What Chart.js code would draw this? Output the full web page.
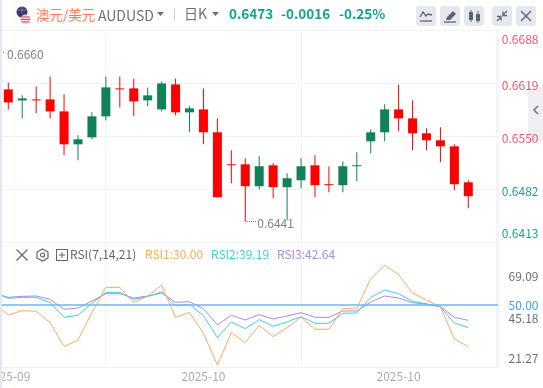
<!DOCTYPE html>
<html><head><meta charset="utf-8">
<script src="https://cdn.jsdelivr.net/npm/chart.js@4"></script>
<style>
html,body{margin:0;padding:0;background:#fff;width:543px;height:388px;overflow:hidden;font-family:"Noto Sans CJK SC","Noto Sans",sans-serif}
#c{position:absolute;left:0;top:0;z-index:2}
.t{position:absolute;white-space:nowrap;line-height:18px;z-index:3}
#strip{position:absolute;left:0;top:0;width:2px;height:388px;background:#e4e8f0;z-index:4}
#tab{position:absolute;left:528px;top:88px;width:15px;height:53px;background:#eeeef3;z-index:1}
.b{position:absolute;top:6px;width:20px;height:20px;background:#e6e8ef;border-radius:3px;z-index:3}
svg{display:block}
.i{position:absolute;z-index:3}
</style></head><body>
<div id="strip"></div><div id="tab"><svg width="15" height="53"><path d="M10 18 L6 22 L10 26" fill="none" stroke="#6e7380" stroke-width="1.5"/></svg></div>
<svg class="i" style="left:15px;top:5px" width="18" height="20"><circle cx="7" cy="7" r="5.5" fill="#2a3f80"/><path d="M2 5h10M7 2v6" stroke="#d9506a" stroke-width="1"/><circle cx="10.5" cy="14.5" r="5" fill="#f3d5d5"/><path d="M6 12h9M5.500 14.500h10M6.500 17h8" stroke="#d9506a" stroke-width="1.2"/></svg>
<div class="t" style="left:36px;top:5px;font-size:13.5px;color:#ff7a57">澳元/美元</div>
<div class="t" style="left:98px;top:6px;font-size:14px;color:#6b7080">AUDUSD</div>
<svg class="i" style="left:157px;top:12px" width="8" height="5"><path d="M0 0h7L3.500 4z" fill="#6b7080"/></svg>
<div class="i" style="left:174px;top:8px;width:1px;height:13px;background:#c9ccd4"></div>
<div class="t" style="left:184px;top:4px;font-size:14px;color:#6b7080">日K</div>
<svg class="i" style="left:212px;top:12px" width="8" height="5"><path d="M0 0h7L3.500 4z" fill="#6b7080"/></svg>
<div class="t" style="left:229px;top:4px;font-size:13.5px;font-weight:700;color:#13a388">0.6473</div>
<div class="t" style="left:281px;top:4px;font-size:13.5px;font-weight:700;color:#13a388">-0.0016</div>
<div class="t" style="left:339px;top:4px;font-size:13.5px;font-weight:700;color:#13a388">-0.25%</div>
<div class="b" style="left:416px"><svg width="20" height="20"><path d="M4 11 L7 6 L10 10 L12 8 L16 9" fill="none" stroke="#5f6470" stroke-width="1.300"/><path d="M4 15h12" stroke="#5f6470" stroke-width="1.300"/></svg></div>
<div class="b" style="left:440px"><svg width="20" height="20"><path d="M7 11 L13 5 L16 8 L10 14 L6 14z" fill="#5f6470"/><path d="M4 16h12" stroke="#5f6470" stroke-width="1.300"/></svg></div>
<div class="b" style="left:464px"><svg width="20" height="20"><rect x="5" y="6" width="4" height="8" fill="#5f6470"/><rect x="12" y="8" width="4" height="7" fill="#5f6470"/><path d="M7 4v12M14 5v12" stroke="#5f6470"/></svg></div>
<div class="b" style="left:492px"><svg width="20" height="20"><path d="M15 5 L11 9 M5 15 L9 11" stroke="#5f6470" stroke-width="1.300"/><path d="M11 5.500v4h4M9 14.500v-4h-4" fill="none" stroke="#5f6470" stroke-width="1.300"/></svg></div>
<div class="b" style="left:516px"><svg width="20" height="20"><path d="M5 5 L15 15 M15 5 L5 15" stroke="#5f6470" stroke-width="1.300"/></svg></div>
<svg class="i" style="left:15px;top:248px" width="14" height="14"><path d="M1.500 1.500 L12.500 12.500 M12.500 1.500 L1.500 12.500" stroke="#5f6470" stroke-width="1.200"/></svg>
<svg class="i" style="left:36px;top:248px" width="13" height="14"><path d="M6.500 1 L12 4 V10 L6.500 13 L1 10 V4z" fill="none" stroke="#5f6470" stroke-width="1.200"/><circle cx="6.500" cy="7" r="2" fill="none" stroke="#5f6470" stroke-width="1.200"/></svg>
<svg class="i" style="left:56px;top:249px" width="12" height="12"><rect x=".5" y=".5" width="11" height="11" fill="none" stroke="#5f6470"/><path d="M6 3v6M3 6h6" stroke="#5f6470"/></svg>
<div class="t" style="left:70px;top:245px;font-size:12px;color:#5f6470">RSI(7,14,21)</div>
<div class="t" style="left:145px;top:245px;font-size:12px;color:#ffa95c">RSI1:30.00</div>
<div class="t" style="left:211px;top:245px;font-size:12px;color:#3fcde6">RSI2:39.19</div>
<div class="t" style="left:277px;top:245px;font-size:12px;color:#a88be6">RSI3:42.64</div>
<canvas id="c" width="543" height="388"></canvas>
<script>
const opens=[.66113,.65971,.65984,.65984,.65829,.65404,.65494,.65765,.66126,.66126,.65971,.65855,.66177,.65817,.65855,.65559,.65146,.65146,.64863,.65133,.64850,.64940,.65133,.64889,.64876,.65121,.65443,.65559,.65855,.65739,.65546,.65456,.65378,.64914];
const closes=[.65945,.65997,.65971,.65829,.65404,.65469,.65765,.66139,.66113,.65958,.66036,.66190,.65817,.65868,.65559,.64721,.65133,.64863,.65121,.64850,.64966,.65121,.64876,.64876,.65121,.65133,.65559,.65855,.65739,.65546,.65456,.65378,.64889,.64734];
const highs=[.66203,.66036,.66152,.66281,.66049,.65520,.65817,.66281,.66281,.66255,.66139,.66216,.66255,.65894,.66126,.65739,.65327,.65224,.65249,.65159,.65030,.65224,.65262,.65121,.65185,.65301,.65597,.65920,.66177,.65971,.65610,.65623,.65404,.64940];
const lows=[.65855,.65739,.65804,.65739,.65262,.65198,.65469,.65713,.65881,.65765,.65894,.65829,.65778,.65559,.65404,.64721,.64901,.64410,.64824,.64708,.64425,.64837,.64721,.64786,.64786,.64927,.65288,.65443,.65572,.65327,.65327,.65172,.64811,.64579];
// RSI series start one bar before the first visible candle
const rsi1=[50.5,45.22,47.29,46.97,41.55,30.06,33.25,46.33,58.45,58.45,51.12,54.31,59.57,44.10,46.49,36.44,21.27,36.76,31.98,40.27,34.85,39.15,44.26,38.36,38.36,48.25,48.56,62.44,69.09,64.51,55.74,52.39,49.20,33.73,30.00];
const rsi2=[55.9,53.19,53.67,53.67,51.12,44.10,45.06,50.80,56.06,56.06,52.71,53.99,56.38,49.52,50.32,44.90,34.37,41.87,38.68,42.98,39.79,41.87,44.42,41.23,41.23,46.01,46.17,53.67,57.18,55.42,51.75,50.48,49.04,41.39,39.19];
const rsi3=[55.6,53.67,54.15,54.31,52.71,47.93,48.56,51.91,55.42,55.42,53.35,54.31,55.74,51.28,51.59,48.25,40.43,45.06,42.82,45.37,43.30,44.74,46.33,44.10,44.10,47.13,47.13,51.44,54.31,53.35,51.12,50.48,49.20,44.10,42.64];
const priceTicks=[.6688,.6619,.6550,.6482,.6413];
const priceLabelShift=[9,1.5,1.5,1.5,-10];
const rsiTicks=[69.09,50,45.18,21.27];
const rsiLabelShift=[11.7,0,3,-7];
const monthTicks=[0,14,28];
const monthLabels=['2025-09','2025-10','2025-10'];
const extremes=[{i:-1,v:.6660,t:'0.6660'},{i:17,v:.6441,t:'0.6441'}];
const xMin=-0.595,xMax=35.13;
const RED='#ff0000',GREEN='#0f8259';
const colors=opens.map((o,i)=>closes[i]>=o?GREEN:RED);
const rsiPts=a=>a.map((v,i)=>({x:i-1,y:v}));
const FONT='"Noto Sans CJK SC","Noto Sans",sans-serif';
const GRID='#f1f2f5';
const line=(a,c)=>({type:'line',data:rsiPts(a),yAxisID:'rsi',borderColor:c,borderWidth:1,pointRadius:0,tension:0,order:2});
const tweakLabels={id:'tweakLabels',beforeDraw(ch){
  ch.scales.y.getLabelItems(ch.chartArea).forEach((it,k)=>{it.options.translation[1]+=priceLabelShift[k];});
  ch.scales.rsi.getLabelItems(ch.chartArea).forEach((it,k)=>{it.options.translation[1]+=rsiLabelShift[k];});
}};
const notes={id:'notes',afterDatasetsDraw(ch){
  const c=ch.ctx,X=ch.scales.x,Y=ch.scales.y;
  c.save();c.font='12px '+FONT;c.fillStyle='#7d818c';c.textBaseline='middle';c.textAlign='left';
  extremes.forEach(e=>{
    const px=e.i<0?3:X.getPixelForValue(e.i),py=Y.getPixelForValue(e.v);
    const len=e.i<0?2:11;
    for(let k=0;k<len;k+=2)c.fillRect(Math.round(px)+k,Math.round(py),1,1);
    c.fillText(e.t,px+len+(e.i<0?2:1),py+2.500);
  });
  c.restore();
}};
new Chart(document.getElementById('c'),{
  data:{datasets:[
    {type:'bar',label:'wick',data:highs.map((h,i)=>({x:i,y:[lows[i],h]})),yAxisID:'y',backgroundColor:colors,barThickness:1,grouped:false,order:4,inflateAmount:0},
    {type:'bar',label:'body',data:opens.map((o,i)=>({x:i,y:[o,closes[i]]})),yAxisID:'y',backgroundColor:colors,barThickness:9,grouped:false,order:3,inflateAmount:0,minBarLength:1},
    {type:'line',label:'50',data:[{x:xMin,y:50},{x:xMax,y:50}],yAxisID:'rsi',borderColor:'#6cb6f5',borderWidth:1.500,pointRadius:0,order:1},
    line(rsi1,'#ffa95c'),line(rsi2,'#3fcde6'),line(rsi3,'#a88be6')
  ]},
  options:{
    responsive:false,animation:false,events:[],
    layout:{padding:{top:30,left:0,right:4.5,bottom:0}},
    plugins:{legend:{display:false},tooltip:{enabled:false}},
    scales:{
      x:{type:'linear',min:xMin,max:xMax,offset:false,
        afterBuildTicks:s=>{s.ticks=monthTicks.map(v=>({value:v}));},
        afterFit:s=>{s.paddingLeft=0;s.paddingRight=0;s.height=21;},
        ticks:{autoSkip:false,maxRotation:0,padding:2,font:{family:FONT,size:12},color:'#a9adb8',callback:v=>monthLabels[monthTicks.indexOf(v)]},
        grid:{color:GRID,drawTicks:false},border:{display:true,color:GRID}},
      y:{type:'linear',position:'right',stack:'p',stackWeight:213,weight:1,min:.6413,max:.6688,
        afterBuildTicks:s=>{s.ticks=priceTicks.map(v=>({value:v}));},
        afterFit:s=>{s.width=40.5;},
        ticks:{padding:3,crossAlign:'far',font:{family:FONT,size:12},callback:v=>v.toFixed(4),
          color:c=>c.tick.value>.65?'#e5596a':'#1aa58b'},
        grid:{color:GRID,drawTicks:false},border:{color:GRID}},
      rsi:{type:'linear',axis:'y',position:'right',stack:'p',stackWeight:124,weight:2,min:20.3,max:79.7,
        afterBuildTicks:s=>{s.ticks=rsiTicks.map(v=>({value:v}));},
        afterFit:s=>{s.width=40.5;},
        ticks:{padding:3,crossAlign:'far',font:{family:FONT,size:12},callback:v=>v.toFixed(2),
          color:c=>c.tick.value===50?'#3f9ef0':'#6b7080'},
        grid:{display:false,drawTicks:false},border:{color:GRID}}
    }
  },
  plugins:[tweakLabels,notes]
});
</script>
</body></html>
